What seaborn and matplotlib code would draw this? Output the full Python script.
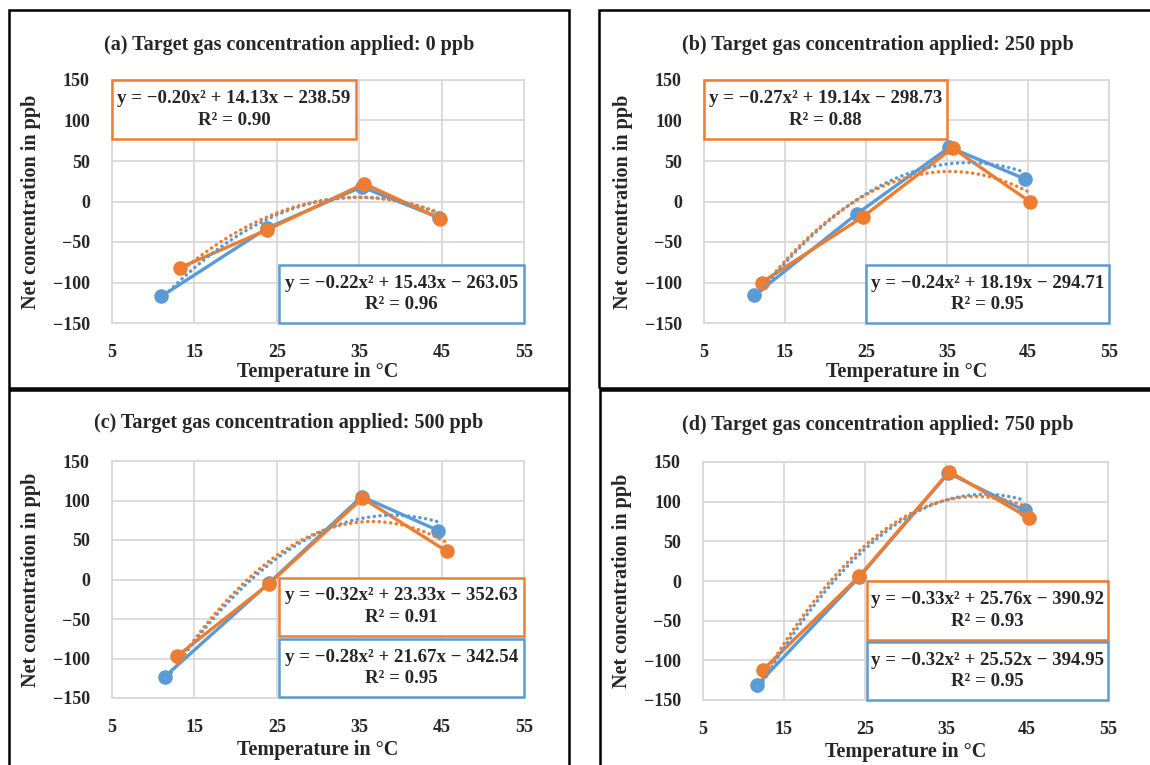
import numpy as np
import pandas as pd
import matplotlib
matplotlib.use("Agg")
import matplotlib.pyplot as plt
import seaborn as sns
from matplotlib.patches import Rectangle

# ---------------- data ----------------
panel_titles = [
    "(a) Target gas concentration applied: 0 ppb",
    "(b) Target gas concentration applied: 250 ppb",
    "(c) Target gas concentration applied: 500 ppb",
    "(d) Target gas concentration applied: 750 ppb",
]
temp_ticks = [5, 15, 25, 35, 45, 55]
conc_ticks = [-150, -100, -50, 0, 50, 100, 150]

a_blue_x = [11.0, 23.8, 35.3, 44.7]
a_blue_y = [-117, -33, 18, -20]
a_orange_x = [13.2, 23.8, 35.6, 44.8]
a_orange_y = [-82, -35, 22, -21]

b_blue_x = [11.2, 23.9, 35.3, 44.6]
b_blue_y = [-116, -15, 67, 28]
b_orange_x = [12.1, 24.6, 35.7, 45.2]
b_orange_y = [-100, -19, 66, 0]

c_blue_x = [11.4, 24.0, 35.3, 44.6]
c_blue_y = [-123, -5, 105, 62]
c_orange_x = [12.9, 24.0, 35.4, 45.6]
c_orange_y = [-97, -6, 103, 36]

d_blue_x = [11.7, 24.3, 35.3, 44.7]
d_blue_y = [-131, 5, 136, 89]
d_orange_x = [12.4, 24.3, 35.4, 45.3]
d_orange_y = [-112, 6, 138, 79]

orange_eq = ["y = \u22120.20x\u00b2 + 14.13x \u2212 238.59",
             "y = \u22120.27x\u00b2 + 19.14x \u2212 298.73",
             "y = \u22120.32x\u00b2 + 23.33x \u2212 352.63",
             "y = \u22120.33x\u00b2 + 25.76x \u2212 390.92"]
orange_r2 = ["R\u00b2 = 0.90", "R\u00b2 = 0.88", "R\u00b2 = 0.91", "R\u00b2 = 0.93"]
blue_eq = ["y = \u22120.22x\u00b2 + 15.43x \u2212 263.05",
           "y = \u22120.24x\u00b2 + 18.19x \u2212 294.71",
           "y = \u22120.28x\u00b2 + 21.67x \u2212 342.54",
           "y = \u22120.32x\u00b2 + 25.52x \u2212 394.95"]
blue_r2 = ["R\u00b2 = 0.96", "R\u00b2 = 0.95", "R\u00b2 = 0.95", "R\u00b2 = 0.95"]

series = [
    (a_blue_x, a_blue_y, a_orange_x, a_orange_y),
    (b_blue_x, b_blue_y, b_orange_x, b_orange_y),
    (c_blue_x, c_blue_y, c_orange_x, c_orange_y),
    (d_blue_x, d_blue_y, d_orange_x, d_orange_y),
]

# ---------------- styling / layout ----------------
BLUE = "#5B9BD5"
ORANGE = "#ED7D31"
GRID = "#D9D9D9"
W, H = 1150, 765

sns.set_theme(style="white")
plt.rcParams["font.family"] = ["Liberation Serif", "DejaVu Serif"]
plt.rcParams["font.weight"] = "bold"
plt.rcParams["axes.unicode_minus"] = True
FS_TICK = 13
FS_LABEL = 14.5
FS_TITLE = 14.5
FS_EQ = 13.6

fig = plt.figure(figsize=(W / 100, H / 100), dpi=100)

def fx(px):
    return px / W

def fy(py):
    return 1 - py / H

# axes pixel boxes: left, right, top, bottom
axes_px = [(112, 524, 80, 323), (704, 1109, 80, 323),
           (112, 524, 461, 698), (703, 1108, 462, 700)]
# panel frames: left, right, top, bottom
frames_px = [(9, 569, 10, 388), (599, 1160, 10, 388),
             (9, 569, 390, 775), (600, 1160, 390, 775)]
title_px = [(289, 45), (878, 45), (289, 423), (878, 425)]
xlabel_py = [372, 372, 750, 752]
ylabel_px = [31, 623, 31, 622]
# equation boxes in axes fraction: x0, x1, y0, y1
orange_box = [(0.0, 0.592, 0.757, 1.0), (0.0, 0.60, 0.757, 1.0),
              (0.406, 1.0, 0.263, 0.508), (0.404, 1.0, 0.254, 0.50)]
blue_box = [(0.406, 1.0, 0.0, 0.24), (0.40, 1.0, 0.0, 0.24),
            (0.406, 1.0, 0.003, 0.25), (0.404, 1.0, 0.0, 0.245)]

for (l, r, t, b) in frames_px:
    fig.patches.append(Rectangle((fx(l), fy(b)), fx(r) - fx(l), fy(t) - fy(b),
                                 transform=fig.transFigure, fill=False,
                                 ec="black", lw=1.8, zorder=0))

for i in range(4):
    l, r, t, b = axes_px[i]
    ax = fig.add_axes([fx(l), fy(b), fx(r) - fx(l), fy(t) - fy(b)])
    bx, by, ox, oy = series[i]
    df_b = pd.DataFrame({"T": bx, "C": by})
    df_o = pd.DataFrame({"T": ox, "C": oy})

    sns.lineplot(data=df_b, x="T", y="C", ax=ax, color=BLUE, lw=2.4,
                 marker="o", markersize=10.5, markeredgewidth=0, zorder=4,
                 sort=False)
    sns.lineplot(data=df_o, x="T", y="C", ax=ax, color=ORANGE, lw=2.4,
                 marker="o", markersize=10.5, markeredgewidth=0, zorder=5,
                 sort=False)
    for df, col in ((df_b, BLUE), (df_o, ORANGE)):
        sns.regplot(data=df, x="T", y="C", ax=ax, order=2, ci=None,
                    scatter=False, truncate=True,
                    line_kws=dict(color=col, lw=2.5, ls=(0, (0.05, 1.6)),
                                  dash_capstyle="round", zorder=6))

    ax.set_xlim(5, 55)
    ax.set_ylim(-150, 150)
    ax.set_xticks(temp_ticks)
    ax.set_yticks(conc_ticks)
    ax.grid(True, color=GRID, lw=1.3)
    ax.set_axisbelow(True)
    for sp in ax.spines.values():
        sp.set_color(GRID)
        sp.set_linewidth(1.3)
    ax.tick_params(length=0, labelsize=FS_TICK, pad=16, axis="y")
    ax.tick_params(length=0, labelsize=FS_TICK, pad=15, axis="x")
    for lab in ax.get_xticklabels() + ax.get_yticklabels():
        lab.set_fontweight("bold")

    ax.set_xlabel("Temperature in \u00b0C", fontsize=FS_LABEL, fontweight="bold",
                  va="center")
    ax.xaxis.set_label_coords(0.5, (b - xlabel_py[i]) / (b - t))
    ax.set_ylabel("Net concentration in ppb", fontsize=FS_LABEL,
                  fontweight="bold", va="center")
    ax.yaxis.set_label_coords((ylabel_px[i] - l) / (r - l), 0.5)

    for box, col, eq, r2 in ((orange_box[i], ORANGE, orange_eq[i], orange_r2[i]),
                             (blue_box[i], BLUE, blue_eq[i], blue_r2[i])):
        x0, x1, y0, y1 = box
        ax.add_patch(Rectangle((x0, y0), x1 - x0, y1 - y0,
                               transform=ax.transAxes, fc="white", ec=col,
                               lw=1.8, zorder=3, clip_on=False))
        ax.text((x0 + x1) / 2, (y0 + y1) / 2, eq + "\n" + r2,
                transform=ax.transAxes, ha="center", va="center",
                multialignment="center", fontsize=FS_EQ, fontweight="bold",
                linespacing=1.35, zorder=3.5)

    fig.text(fx(title_px[i][0]), fy(title_px[i][1]), panel_titles[i],
             ha="center", va="center", fontsize=FS_TITLE, fontweight="bold")

fig.savefig("out.png", dpi=100)
